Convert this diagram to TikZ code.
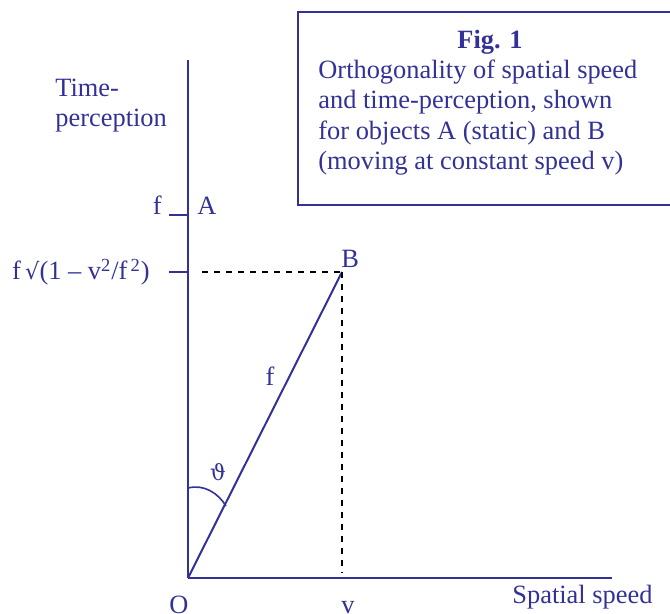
\documentclass[tikz,border=0pt]{standalone}
\usepackage{fontspec}
\setmainfont{Liberation Serif}
\newfontfamily\symbfont{DejaVu Serif}
\usetikzlibrary{positioning}
\definecolor{figblue}{RGB}{50,50,150}

\begin{document}
\begin{tikzpicture}[x=0.5pt, y=-0.5pt, every node/.style={text=figblue, font=\fontsize{13.2}{15.25}\selectfont, inner sep=0pt},
	axis/.style={figblue, line width=1pt},
	guide/.style={black, dashed, line width=0.6pt}]
	\useasboundingbox (0,0) rectangle (670,614);
	\coordinate (O) at (188,578);
	\coordinate (ytop) at (188,60);
	\coordinate (xend) at (612,578);
	\coordinate (fA) at (188,215);
	\coordinate (fB) at (188,272);
	\coordinate (B) at (342,272);
	\coordinate (vB) at (342,573);
	\coordinate (dashstart) at (202,272);
	\draw[axis] (O)--(ytop);
	\draw[axis] (O)--(xend);
	\draw[axis] (fA)--++(-19,0);
	\draw[axis] (fB)--++(-19,0);
	\draw[axis] (O)--(B);
	\draw[guide] (dashstart)--(B);
	\draw[guide] (B)--(vB);
	\draw[axis, line width=0.8pt] (188,488) .. controls (204,484) and (218,493) .. (226,506);
	\draw[axis, line width=1pt] (298,12) rectangle (700,205);
	\node[anchor=base] (title) at (490,49) {\bfseries Fig. 1};
	\node[anchor=base west, align=left] (caption) at (318,170) {Orthogonality of spatial speed\\and time-perception, shown\\for objects A (static) and B\\(moving at constant speed v)};
	\node[anchor=base west, align=left] (ylabel) at (55,127) {Time-\\perception};
	\node[anchor=base east] (flab) at (162,215) {f};
	\node[anchor=base west] (Alab) at (197,215) {A};
	\node[anchor=base east] (fBlab) at (150,280) {f\,{\symbfont\scalebox{0.85}{√}}(1 – v$^{\mathrm{2}}$/f$^{\,\mathrm{2}}$)};
	\node[anchor=base west] (Blab) at (341,268) {B};
	\node[anchor=base] (flen) at (270,386) {f};
	\node[anchor=base] (theta) at (218,481) {\symbfont\fontsize{11}{12}\selectfont ϑ};
	\node[anchor=base] (Olab) at (179,614) {O};
	\node[anchor=base] (vlab) at (348,614) {v};
	\node[anchor=base west] (xlabel) at (512,604) {Spatial speed};
\end{tikzpicture}
\end{document}
